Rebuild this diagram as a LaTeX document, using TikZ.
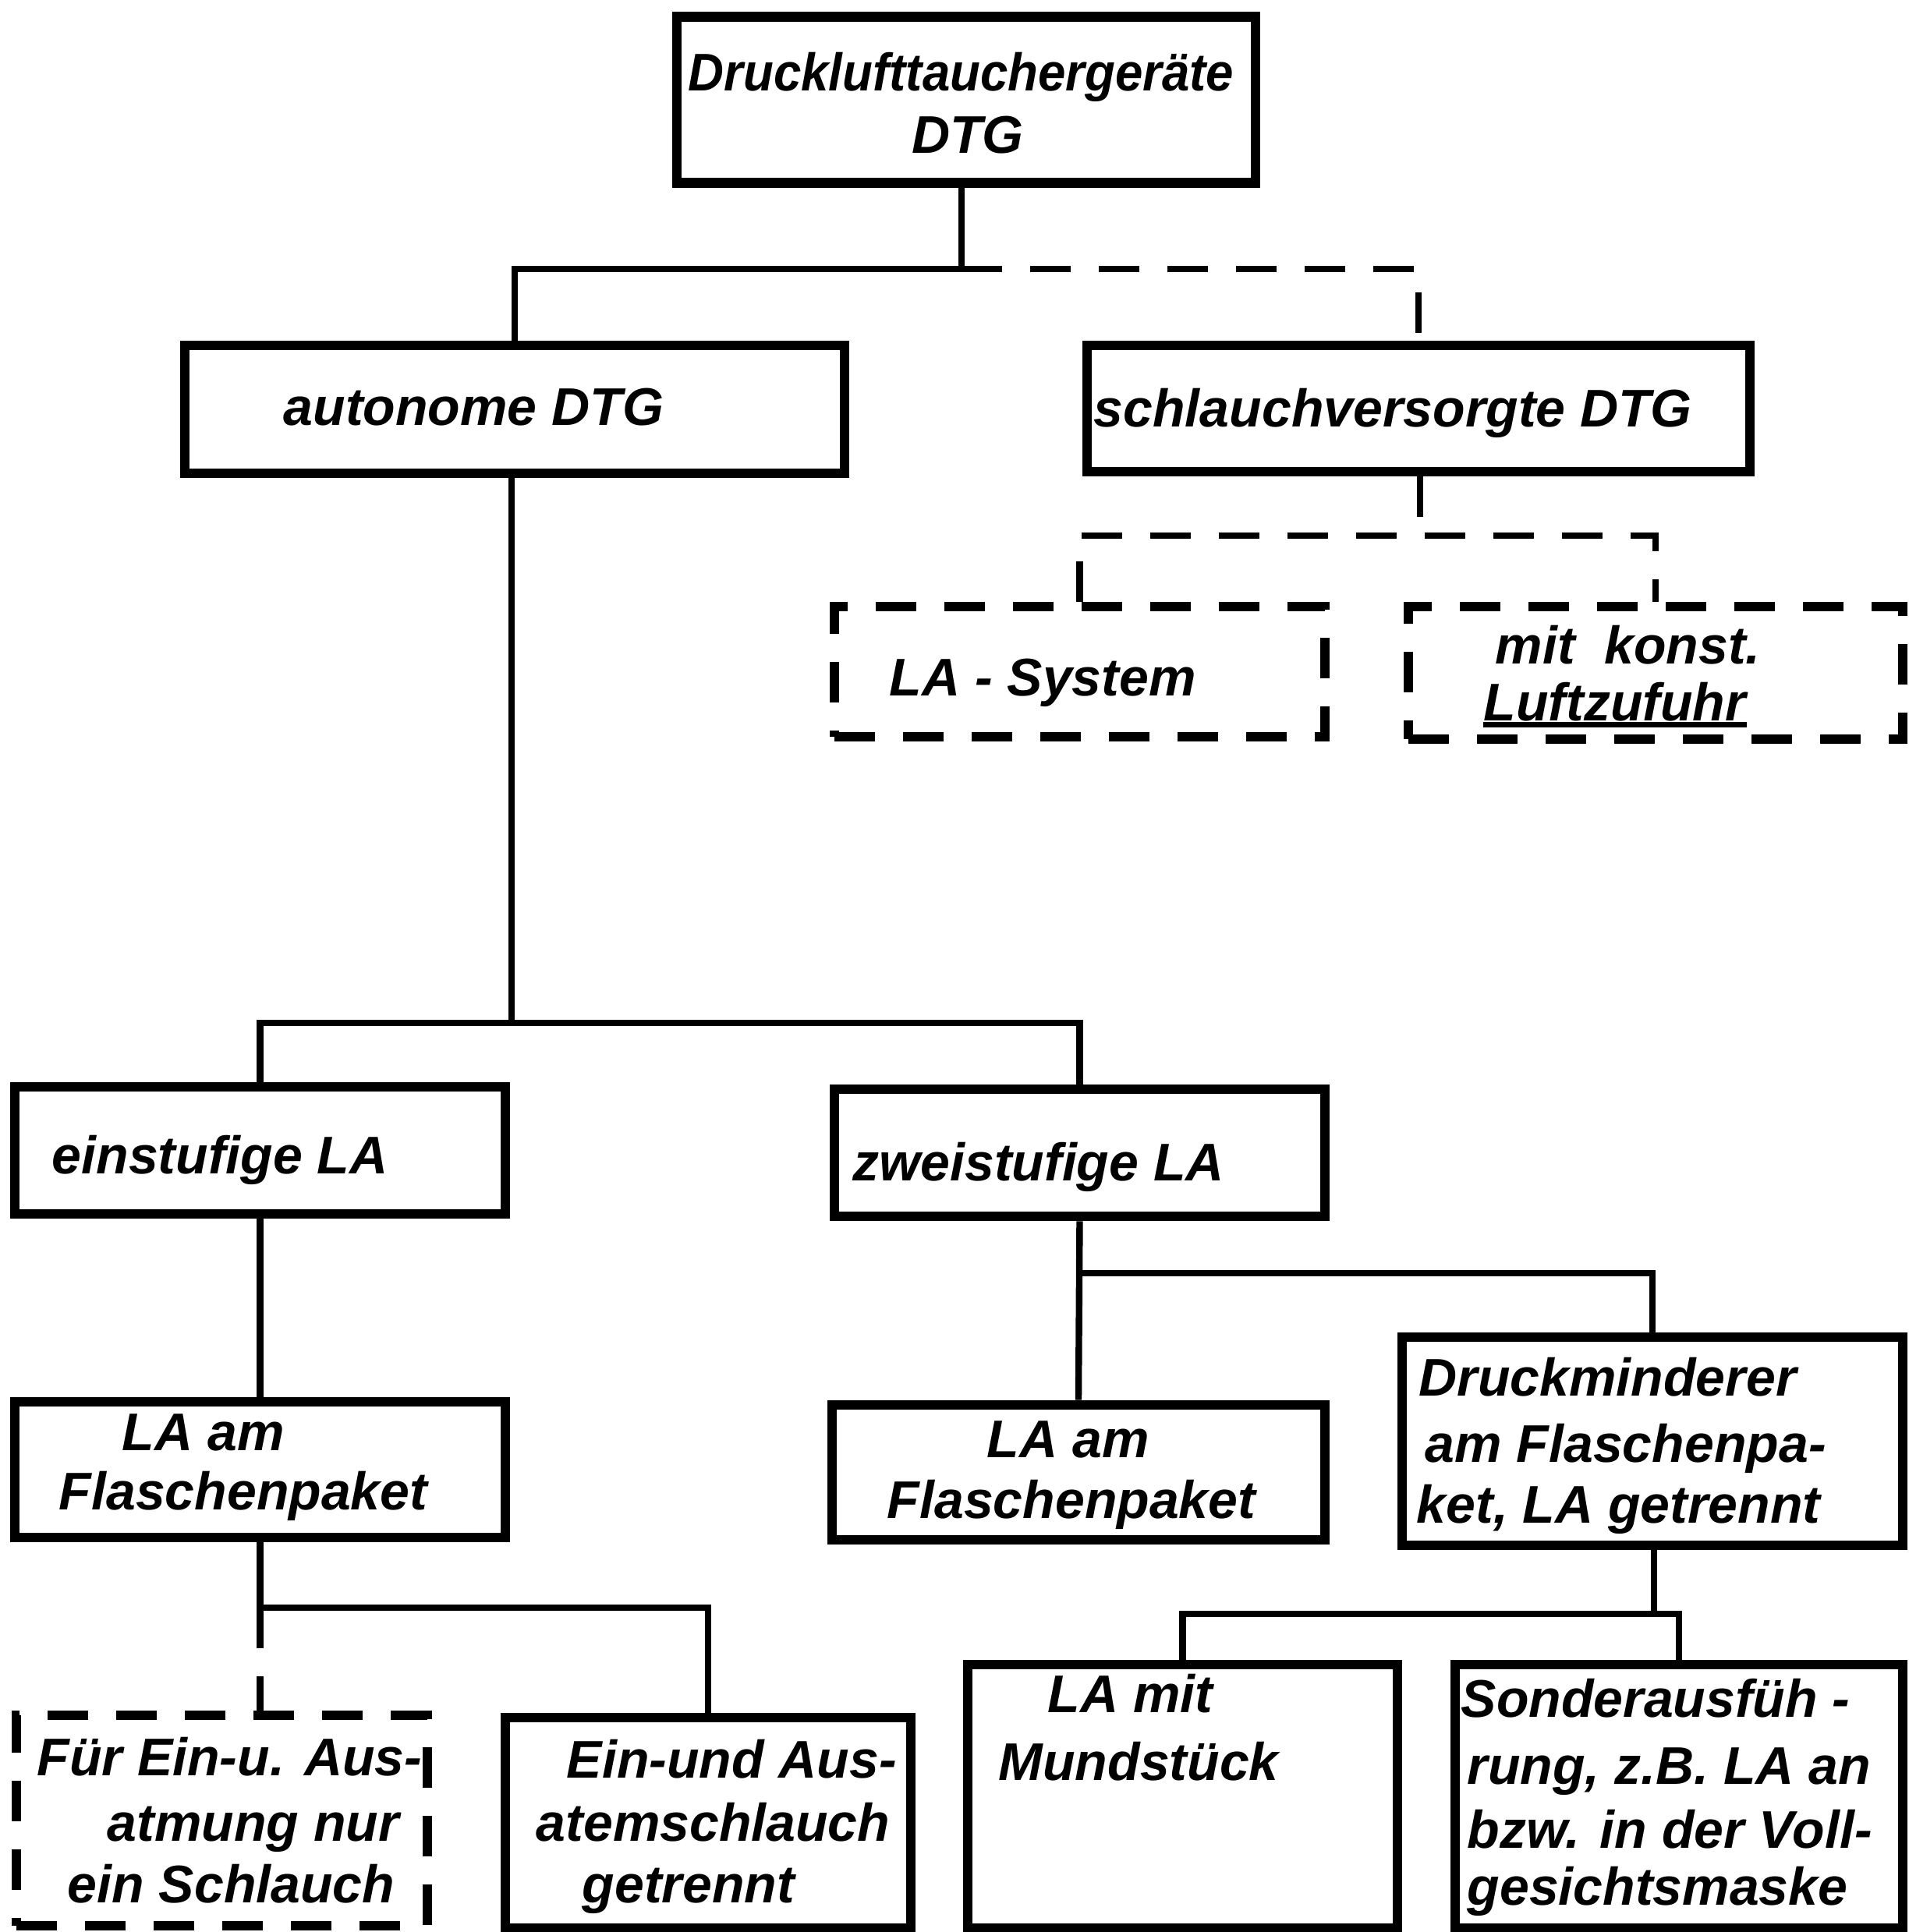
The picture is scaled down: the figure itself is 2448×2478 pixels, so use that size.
\documentclass[tikz,border=0pt]{standalone}
\usepackage{fontspec}
\setmainfont{Liberation Sans}
\begin{document}
\begin{tikzpicture}[x=0.25pt,y=-0.25pt,
  boxwh/.style 2 args={rectangle,draw,line width=3.2pt,inner sep=0pt,minimum width=#1*0.25pt,minimum height=#2*0.25pt},
  dboxwh/.style 2 args={boxwh={#1}{#2},line width=2.8pt,dash pattern=on 13pt off 9pt},
  txt/.style={anchor=base west,inner sep=0pt,font=\fontsize{17pt}{20pt}\selectfont\bfseries\itshape},
  conn/.style={line width=2.1pt},
  dconn/.style={line width=2.1pt,dash pattern=on 13pt off 9pt}]
\useasboundingbox (0,0) rectangle (2448,2478);
% boxes
\node[boxwh={742}{213}] (top) at (1239,128) {};
\node[boxwh={846}{164}] (auto) at (660,525) {};
\node[boxwh={850}{162}] (schl) at (1819,524) {};
\node[dboxwh={629}{167}] (lasys) at (1384.5,861.5) {};
\node[dboxwh={634}{170}] (konst) at (2123,863) {};
\node[boxwh={629}{163}] (ein) at (333.5,1475.5) {};
\node[boxwh={629}{163}] (zwei) at (1384.5,1478.5) {};
\node[boxwh={629}{174}] (lal) at (333.5,1885) {};
\node[boxwh={632}{173}] (lam) at (1383,1888.5) {};
\node[boxwh={642}{267}] (dm) at (2119,1848.5) {};
\node[dboxwh={527}{270}] (fur) at (284.5,2335) {};
\node[boxwh={520}{270}] (eua) at (908,2338) {};
\node[boxwh={551}{338}] (mund) at (1516.5,2304) {};
\node[boxwh={574}{338}] (sond) at (2153,2304) {};
% texts
\node[txt] (t1) at (882,116) {\scalebox{0.935}[1]{Drucklufttauchergeräte}};
\node[txt,anchor=base] (t2) at (1241,196) {DTG};
\node[txt] (t3) at (363,545) {autonome DTG};
\node[txt] (t4) at (1402,547) {schlauchversorgte DTG};
\node[txt] (t5) at (1140,892) {LA - System};
\node[txt] (t6) at (1917,851) {mit\ \ konst.};
\node[txt] (t7) at (1902,924) {Luftzufuhr};
\draw[line width=1.6pt] (t7.south west) ++(0,4) -- ([yshift=-1pt]t7.south east);
\node[txt] (t8) at (66,1505) {einstufige LA};
\node[txt] (t9) at (1093,1514) {zweistufige LA};
\node[txt] (t10) at (156,1860) {LA am};
\node[txt] (t11) at (75,1936) {Flaschenpaket};
\node[txt] (t12) at (1265,1869) {LA am};
\node[txt] (t13) at (1137,1947) {Flaschenpaket};
\node[txt] (t14) at (1819,1790) {Druckminderer};
\node[txt] (t15) at (1827,1875) {am Flaschenpa-};
\node[txt] (t16) at (1816,1953) {ket, LA getrennt};
\node[txt] (t17) at (47,2277) {Für Ein-u. Aus-};
\node[txt] (t18) at (137,2361) {atmung nur};
\node[txt] (t19) at (86,2440) {ein Schlauch};
\node[txt] (t20) at (726,2280) {Ein-und Aus-};
\node[txt] (t21) at (687,2361) {atemschlauch};
\node[txt] (t22) at (746,2440) {getrennt};
\node[txt] (t23) at (1343,2196) {LA mit};
\node[txt] (t24) at (1280,2283) {Mundstück};
\node[txt] (t25) at (1873,2202) {Sonderausfüh -};
\node[txt] (t26) at (1881,2288) {rung, z.B. LA an};
\node[txt] (t27) at (1881,2370) {bzw. in der Voll-};
\node[txt] (t28) at (1881,2443) {gesichtsmaske};
% connectors
\coordinate (j1) at (1233,345);
\draw[conn] (top.south -| j1) -- (j1) -- (j1 -| auto.north) -- (auto.north);
\draw[dconn] (j1) -- (j1 -| schl.north) -- (schl.north);
\coordinate (j2) at (1821,687);
\draw[dconn] (schl.south -| j2) -- (j2);
\draw[dconn] (lasys.north) -- (lasys.north |- j2) -- (konst.north |- j2) -- (konst.north);
\coordinate (j3) at (656,1312);
\draw[conn] (auto.south -| j3) -- (j3);
\draw[conn] (ein.north) -- (ein.north |- j3) -- (zwei.north |- j3) -- (zwei.north);
\draw[conn] (ein.south) -- (lal.north);
\draw[conn] (zwei.south) -- (lam.north);
\coordinate (j4) at (1384,1633);
\draw[conn] (j4) -- (j4 -| dm.north) -- (dm.north);
\coordinate (j5) at (332,2062);
\draw[conn] (lal.south) -- (lal.south |- j5) -- (j5 -| eua.north) -- (eua.north);
\draw[dconn] (lal.south |- j5) -- (lal.south |- fur.north);
\coordinate (j6) at (2121,2070);
\draw[conn] (dm.south -| j6) -- (j6);
\draw[conn] (mund.north) -- (mund.north |- j6) -- (sond.north |- j6) -- (sond.north);
\end{tikzpicture}
\end{document}
